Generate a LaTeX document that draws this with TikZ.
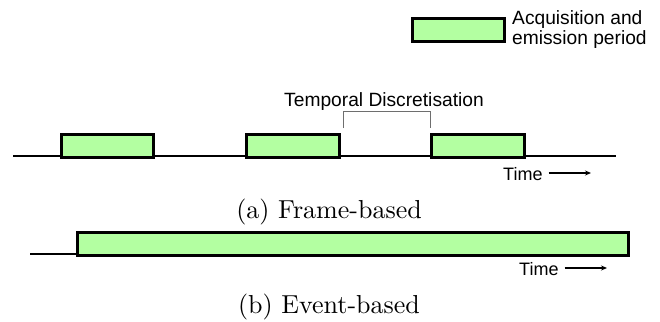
\documentclass[tikz,border=0pt]{standalone}
\usepackage{fontspec}
\newfontfamily\arialf{Liberation Sans}
\newfontfamily\capf[Extension=.otf]{lmroman10-regular}
\usetikzlibrary{arrows.meta}
\definecolor{pgreen}{RGB}{179,255,161}
\definecolor{brgray}{RGB}{110,110,110}
\begin{document}
\begin{tikzpicture}[x=1pt,y=-1pt,
  pbox/.style={draw=black, line width=2.7pt, fill=pgreen, inner sep=0pt, anchor=north west},
  tline/.style={line width=2.5pt},
  sanslbl/.style={font=\arialf\fontsize{19.2}{20}\selectfont, inner sep=0pt},
  timelbl/.style={font=\arialf\fontsize{18}{22}\selectfont, inner sep=0pt, anchor=base west},
  caplbl/.style={font=\capf\fontsize{26}{30}\selectfont, inner sep=0pt, anchor=base},
  timearrow/.style={line width=1.5pt, -{Stealth[length=6pt,width=5pt]}}
]
\useasboundingbox (0,0) rectangle (660,321);
% legend
\node[pbox, minimum width=92pt, minimum height=23pt] (leg) at (411,17) {};
\node[sanslbl, anchor=north west, align=left] (legt) at (512,10) {Acquisition and\\emission period};
% frame-based
\coordinate (fa) at (13,156);
\coordinate (fb) at (616,156);
\draw[tline] (fa) -- (fb);
\node[pbox, minimum width=92pt, minimum height=23pt] (f1) at (60,133) {};
\node[pbox, minimum width=93pt, minimum height=23pt] (f2) at (245,133) {};
\node[pbox, minimum width=93pt, minimum height=23pt] (f3) at (430,133) {};
\coordinate (bl) at (343,128);
\coordinate (br) at (430,128);
\draw[brgray, line width=0.9pt] (bl) -- ++(0,-17) -| (br);
\node[sanslbl, anchor=base] (td) at (384,106) {Temporal Discretisation};
\node[timelbl] (ta) at (503,180) {Time};
\coordinate (tae) at (591,173);
\draw[timearrow] ([xshift=6pt]ta.east |- tae) -- (tae);
\node[caplbl] (capa) at (329,218) {(a) Frame-based};
% event-based
\coordinate (ea) at (30,254);
\coordinate (eb) at (627,254);
\draw[tline] (ea) -- (eb);
\node[pbox, minimum width=551pt, minimum height=23pt] (e1) at (76,231) {};
\node[timelbl] (tb) at (519,275) {Time};
\coordinate (tbe) at (607,268);
\draw[timearrow] ([xshift=6pt]tb.east |- tbe) -- (tbe);
\node[caplbl] (capb) at (329,313) {(b) Event-based};
\end{tikzpicture}
\end{document}
